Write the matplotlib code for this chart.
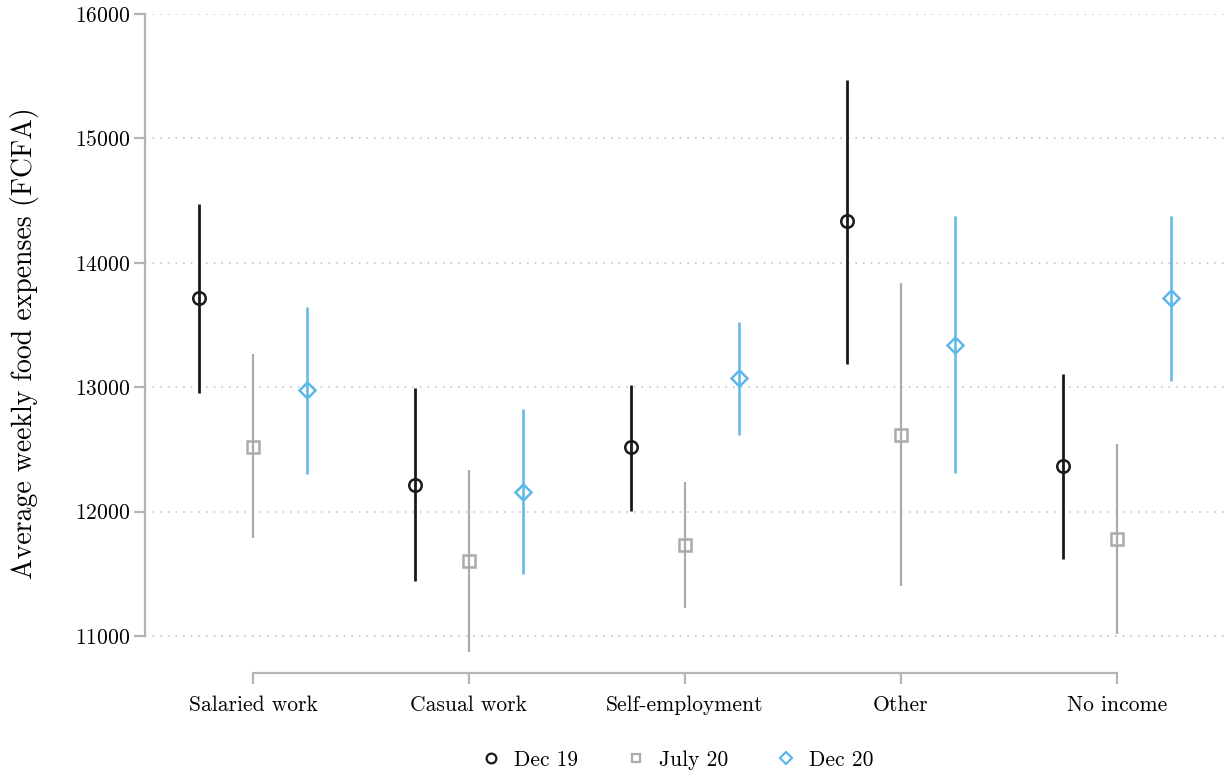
import matplotlib.pyplot as plt
import numpy as np
from matplotlib.lines import Line2D

plt.rcParams['font.family'] = ['cmr10', 'DejaVu Serif']
plt.rcParams['axes.formatter.use_mathtext'] = True

groups = ["Salaried work", "Casual work", "Self-employment", "Other", "No income"]

# Dec 19
dec19_mean = [13714, 12214, 12517, 14333, 12366]
dec19_lo = [12956, 11442, 12007, 13190, 11621]
dec19_hi = [14471, 12991, 13015, 15471, 13108]

# July 20
jul20_mean = [12522, 11603, 11732, 12618, 11782]
jul20_lo = [11785, 10874, 11222, 11401, 11018]
jul20_hi = [13264, 12334, 12241, 13837, 12545]

# Dec 20
dec20_mean = [12977, 12160, 13071, 13342, 13716]
dec20_lo = [12302, 11498, 12616, 12307, 13046]
dec20_hi = [13647, 12825, 13527, 14377, 14380]

series = [
    ("Dec 19", dec19_mean, dec19_lo, dec19_hi, "#1a1a1a", "o", 9, 2.0, -0.25),
    ("July 20", jul20_mean, jul20_lo, jul20_hi, "#ababab", "s", 8, 1.6, 0.0),
    ("Dec 20", dec20_mean, dec20_lo, dec20_hi, "#5db7e8", "D", 8, 1.8, 0.25),
]

fig = plt.figure(figsize=(12.24, 7.76), dpi=100)
ax = fig.add_axes([145/1224, 103/776, 1080/1224, 659/776])

x = np.arange(len(groups))
for name, m, lo, hi, col, mk, ms, lw, off in series:
    xs = x + off
    ax.vlines(xs, lo, hi, color=col, lw=lw, zorder=3)
    ax.plot(xs, m, ls='none', marker=mk, ms=ms, mfc='none', mec=col, mew=1.8, zorder=4)

ax.set_xlim(-0.5, 4.5)
ax.set_ylim(10702, 16000)
ax.set_yticks([11000, 12000, 13000, 14000, 15000, 16000])
ax.set_xticks(x)
ax.set_xticklabels(groups)
ax.yaxis.grid(True, ls=(0, (1, 4)), color='#bdbdbd', lw=1.1)
ax.set_axisbelow(True)

for s in ['top', 'right']:
    ax.spines[s].set_visible(False)
ax.spines['left'].set_bounds(11000, 16000)
ax.spines['bottom'].set_bounds(0, 4)
for s in ['left', 'bottom']:
    ax.spines[s].set_color('#b4b4b4')
    ax.spines[s].set_linewidth(1.6)
ax.tick_params(axis='both', colors='#b4b4b4', length=8, width=1.6, labelcolor='black', labelsize=15.5)
ax.tick_params(axis='x', pad=8)
ax.tick_params(axis='y', pad=3)
ax.set_ylabel("Average weekly food expenses (FCFA)", fontsize=20, labelpad=26)

handles = [Line2D([], [], ls='none', marker=mk, ms=ms - 2, mfc='none', mec=col, mew=1.6)
           for name, m, lo, hi, col, mk, ms, lw, off in series]
fig.legend(handles, [s[0] for s in series], loc='center', bbox_to_anchor=(677/1224, 16/776),
           ncol=3, frameon=False, fontsize=15.5, handlelength=1.0, handletextpad=0.55,
           columnspacing=2.2)

fig.savefig("out.png", dpi=100)
